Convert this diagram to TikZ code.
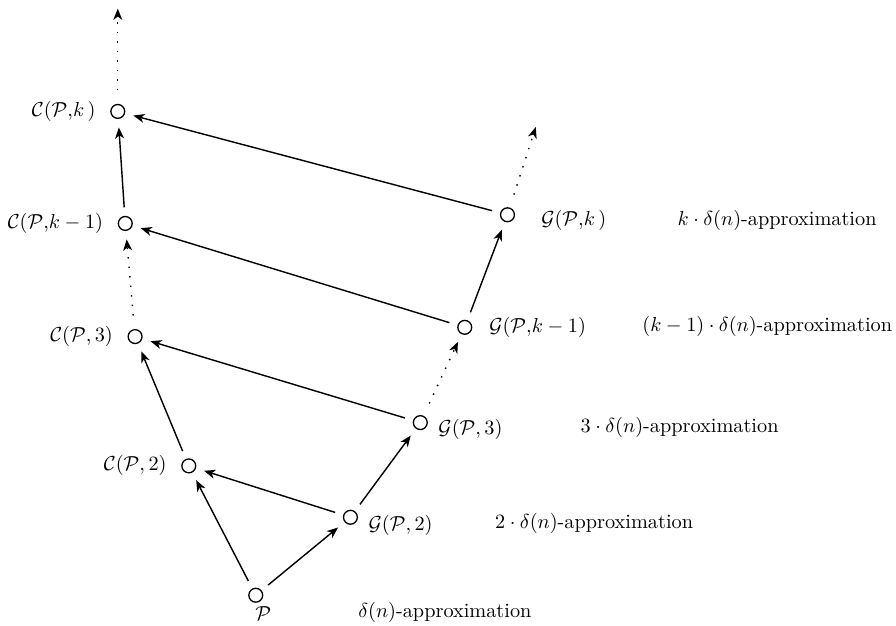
\documentclass[tikz,border=0pt]{standalone}
\usepackage{amsmath,amssymb}
\usetikzlibrary{arrows.meta,positioning}

\begin{document}
\begin{tikzpicture}[>={Stealth[length=5.5pt,width=4.4pt,inset=1.6pt]}]
  \tikzstyle{pt}=[circle, draw, line width=0.65pt, minimum size=0.24cm, inner sep=0pt, outer sep=4.5pt]
  \tikzstyle{lab}=[inner sep=0pt]
  \tikzstyle{approx}=[inner sep=0pt, anchor=west]
  \tikzstyle{arr}=[->, line width=0.7pt]
  \tikzstyle{dots}=[->, line width=0.7pt, loosely dotted, shorten <=2.5pt]
  \useasboundingbox (0,0) rectangle (15.52,10.84);
  \node[pt] (p) at (4.43,0.53) {};
  \node[pt] (g2) at (6.07,1.88) {};
  \node[pt] (c2) at (3.27,2.77) {};
  \node[pt] (g3) at (7.28,3.52) {};
  \node[pt] (c3) at (2.34,5.01) {};
  \node[pt] (gk1) at (8.05,5.17) {};
  \node[pt] (ck1) at (2.17,6.97) {};
  \node[pt] (gk) at (8.79,7.12) {};
  \node[pt] (ck) at (2.04,8.91) {};
  \coordinate (ctop) at (2.04,10.69);
  \coordinate (gtop) at (9.28,8.64);
  \node[lab, below right=0cm and -0.21cm of p] (plab) {$\mathcal{P}$};
  \node[lab, right=0.03cm of g2, yshift=-0.14cm] (g2lab) {$\mathcal{G}(\mathcal{P},2)$};
  \node[lab, left=0.1cm of c2] (c2lab) {$\mathcal{C}(\mathcal{P},2)$};
  \node[lab, right=0.03cm of g3, yshift=-0.11cm] (g3lab) {$\mathcal{G}(\mathcal{P},3)$};
  \node[lab, left=0.1cm of c3] (c3lab) {$\mathcal{C}(\mathcal{P},3)$};
  \node[lab, right=0.14cm of gk1] (gk1lab) {$\mathcal{G}(\mathcal{P},\!k-1)$};
  \node[lab, left=0.1cm of ck1] (ck1lab) {$\mathcal{C}(\mathcal{P},\!k-1)$};
  \node[lab, right=0.3cm of gk, yshift=-0.09cm] (gklab) {$\mathcal{G}(\mathcal{P},\!k\,)$};
  \node[lab, left=0.1cm of ck] (cklab) {$\mathcal{C}(\mathcal{P},\!k\,)$};
  \node[approx] (a1) at (6.20,0.23) {$\delta(n)$-approximation};
  \node[approx] (a2) at (8.57,1.78) {$2\cdot\delta(n)$-approximation};
  \node[approx] (a3) at (10.05,3.43) {$3\cdot\delta(n)$-approximation};
  \node[approx] (ak1) at (11.12,5.18) {$(k-1)\cdot\delta(n)$-approximation};
  \node[approx] (ak) at (11.73,7.03) {$k\cdot\delta(n)$-approximation};
  \draw[arr] (p) -- (g2);
  \draw[arr] (p) -- (c2);
  \draw[arr] (g2) -- (c2);
  \draw[arr] (g2) -- (g3);
  \draw[arr] (c2) -- (c3);
  \draw[arr] (g3) -- (c3);
  \draw[dots] (g3) -- (gk1);
  \draw[dots] (c3) -- (ck1);
  \draw[arr] (gk1) -- (ck1);
  \draw[arr] (gk1) -- (gk);
  \draw[arr] (ck1) -- (ck);
  \draw[arr] (gk) -- (ck);
  \draw[dots] (ck) -- (ctop);
  \draw[dots] (gk) -- (gtop);
\end{tikzpicture}
\end{document}
